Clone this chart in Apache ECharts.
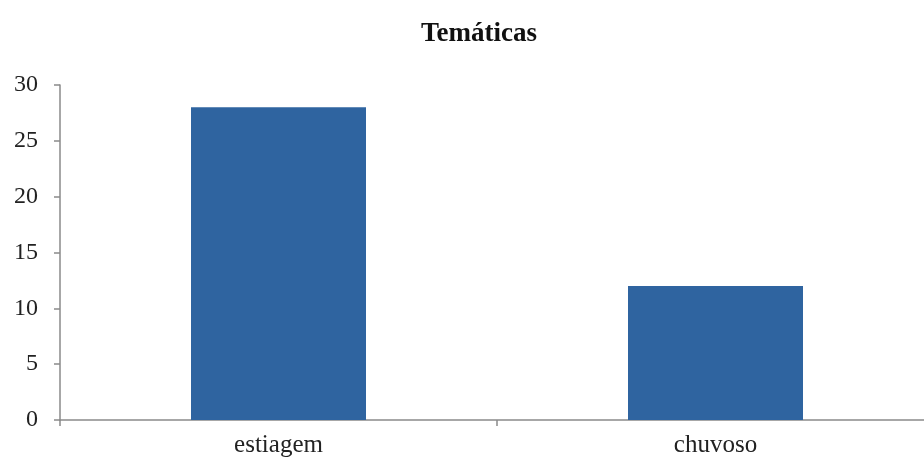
<!DOCTYPE html>
<html>
<head>
<meta charset="utf-8">
<script src="https://cdn.jsdelivr.net/npm/echarts@6/dist/echarts.min.js"></script>
<style>
  html, body { margin: 0; padding: 0; background: #fff; overflow: hidden; }
  /* the horizontal axis runs slightly past the right edge of the page */
  #chart { width: 934px; height: 460px; }
</style>
</head>
<body>
<div id="chart"></div>
<script>
// Número de registros por período
const categories = ['estiagem', 'chuvoso'];
const values = [28, 12];
const yTicks = { min: 0, max: 30, interval: 5 };

const serif = '"Liberation Serif", "Times New Roman", serif';
const chart = echarts.init(document.getElementById('chart'));
chart.setOption({
  animation: false,
  title: {
    text: 'Temáticas',
    left: 474,
    textAlign: 'center',
    top: 16,
    textStyle: { fontFamily: serif, fontWeight: 'bold', fontSize: 27, color: '#111' }
  },
  grid: { left: 60, right: 0, top: 85, height: 335, containLabel: false },
  xAxis: {
    type: 'category',
    data: categories,
    axisLine: { lineStyle: { color: '#8a8a8a', width: 1.5 } },
    axisTick: { show: true, length: 6, lineStyle: { color: '#8a8a8a', width: 1.5 } },
    axisLabel: { fontFamily: serif, fontSize: 25, color: '#222', margin: 13 }
  },
  yAxis: {
    type: 'value',
    min: yTicks.min,
    max: yTicks.max,
    interval: yTicks.interval,
    axisLine: { show: true, lineStyle: { color: '#8a8a8a', width: 1.5 } },
    axisTick: { show: true, length: 6, lineStyle: { color: '#8a8a8a', width: 1.5 } },
    axisLabel: { fontFamily: serif, fontSize: 24, color: '#222', margin: 22 },
    splitLine: { show: false }
  },
  series: [{
    type: 'bar',
    data: values,
    barWidth: 175,
    itemStyle: { color: '#2f64a0' }
  }]
});
</script>
</body>
</html>
